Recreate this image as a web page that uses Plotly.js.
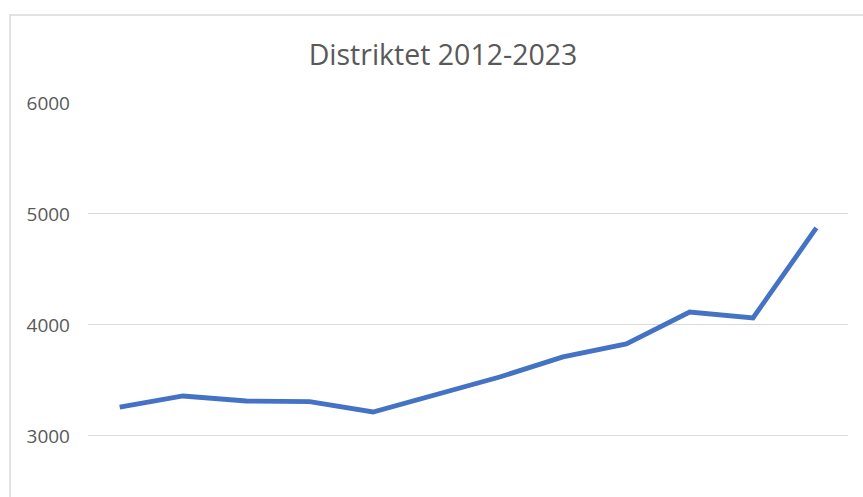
<!DOCTYPE html>
<html>
<head>
<meta charset="utf-8">
<script src="https://cdn.plot.ly/plotly-3.0.1.min.js"></script>
<style>html,body{margin:0;padding:0;background:#fff;}#chart{width:863px;height:497px;}</style>
</head>
<body>
<div id="chart"></div>
<script>
const years = ["2012","2013","2014","2015","2016","2017","2018","2019","2020","2021","2022","2023"];
const values = [3260, 3360, 3315, 3310, 3216, 3369, 3531, 3712, 3829, 4117, 4063, 4874];
const yTicks = [3000, 4000, 5000, 6000];
const titleText = "Distriktet 2012-2023";

const trace = {
  x: years,
  y: values,
  type: "scatter",
  mode: "lines",
  line: {color: "#4472C4", width: 4.8, shape: "linear"},
  hoverinfo: "x+y"
};

const layout = {
  width: 863,
  height: 497,
  margin: {l: 88, r: 15, t: 103, b: 0},
  paper_bgcolor: "#ffffff",
  plot_bgcolor: "#ffffff",
  showlegend: false,
  title: {
    text: titleText,
    x: 443/863, xref: "container", xanchor: "center",
    y: 1 - 55/497, yref: "container", yanchor: "middle",
    font: {family: "Open Sans, Liberation Sans, sans-serif", size: 28.5, color: "#595959"}
  },
  xaxis: {
    type: "category",
    range: [-0.5, 11.5],
    showgrid: false,
    showline: false,
    showticklabels: false,
    ticks: "",
    zeroline: false,
    fixedrange: true
  },
  yaxis: {
    range: [2450, 6000],
    tickvals: yTicks,
    ticktext: yTicks.map(String),
    showgrid: true,
    gridcolor: "#d9d9d9",
    gridwidth: 1,
    zeroline: false,
    showline: false,
    ticks: "",
    ticklabelstandoff: 17,
    tickfont: {family: "Open Sans, Liberation Sans, sans-serif", size: 19, color: "#595959"},
    fixedrange: true
  },
  shapes: [{
    type: "rect", xref: "paper", yref: "paper",
    x0: (10 - 88) / 760, x1: 1.2,
    y0: -0.2, y1: 1 + (103 - 15) / 394,
    line: {color: "#d9d9d9", width: 1.5},
    fillcolor: "rgba(0,0,0,0)",
    layer: "below"
  }]
};

Plotly.newPlot("chart", [trace], layout, {displayModeBar: false, staticPlot: true});
</script>
</body>
</html>
